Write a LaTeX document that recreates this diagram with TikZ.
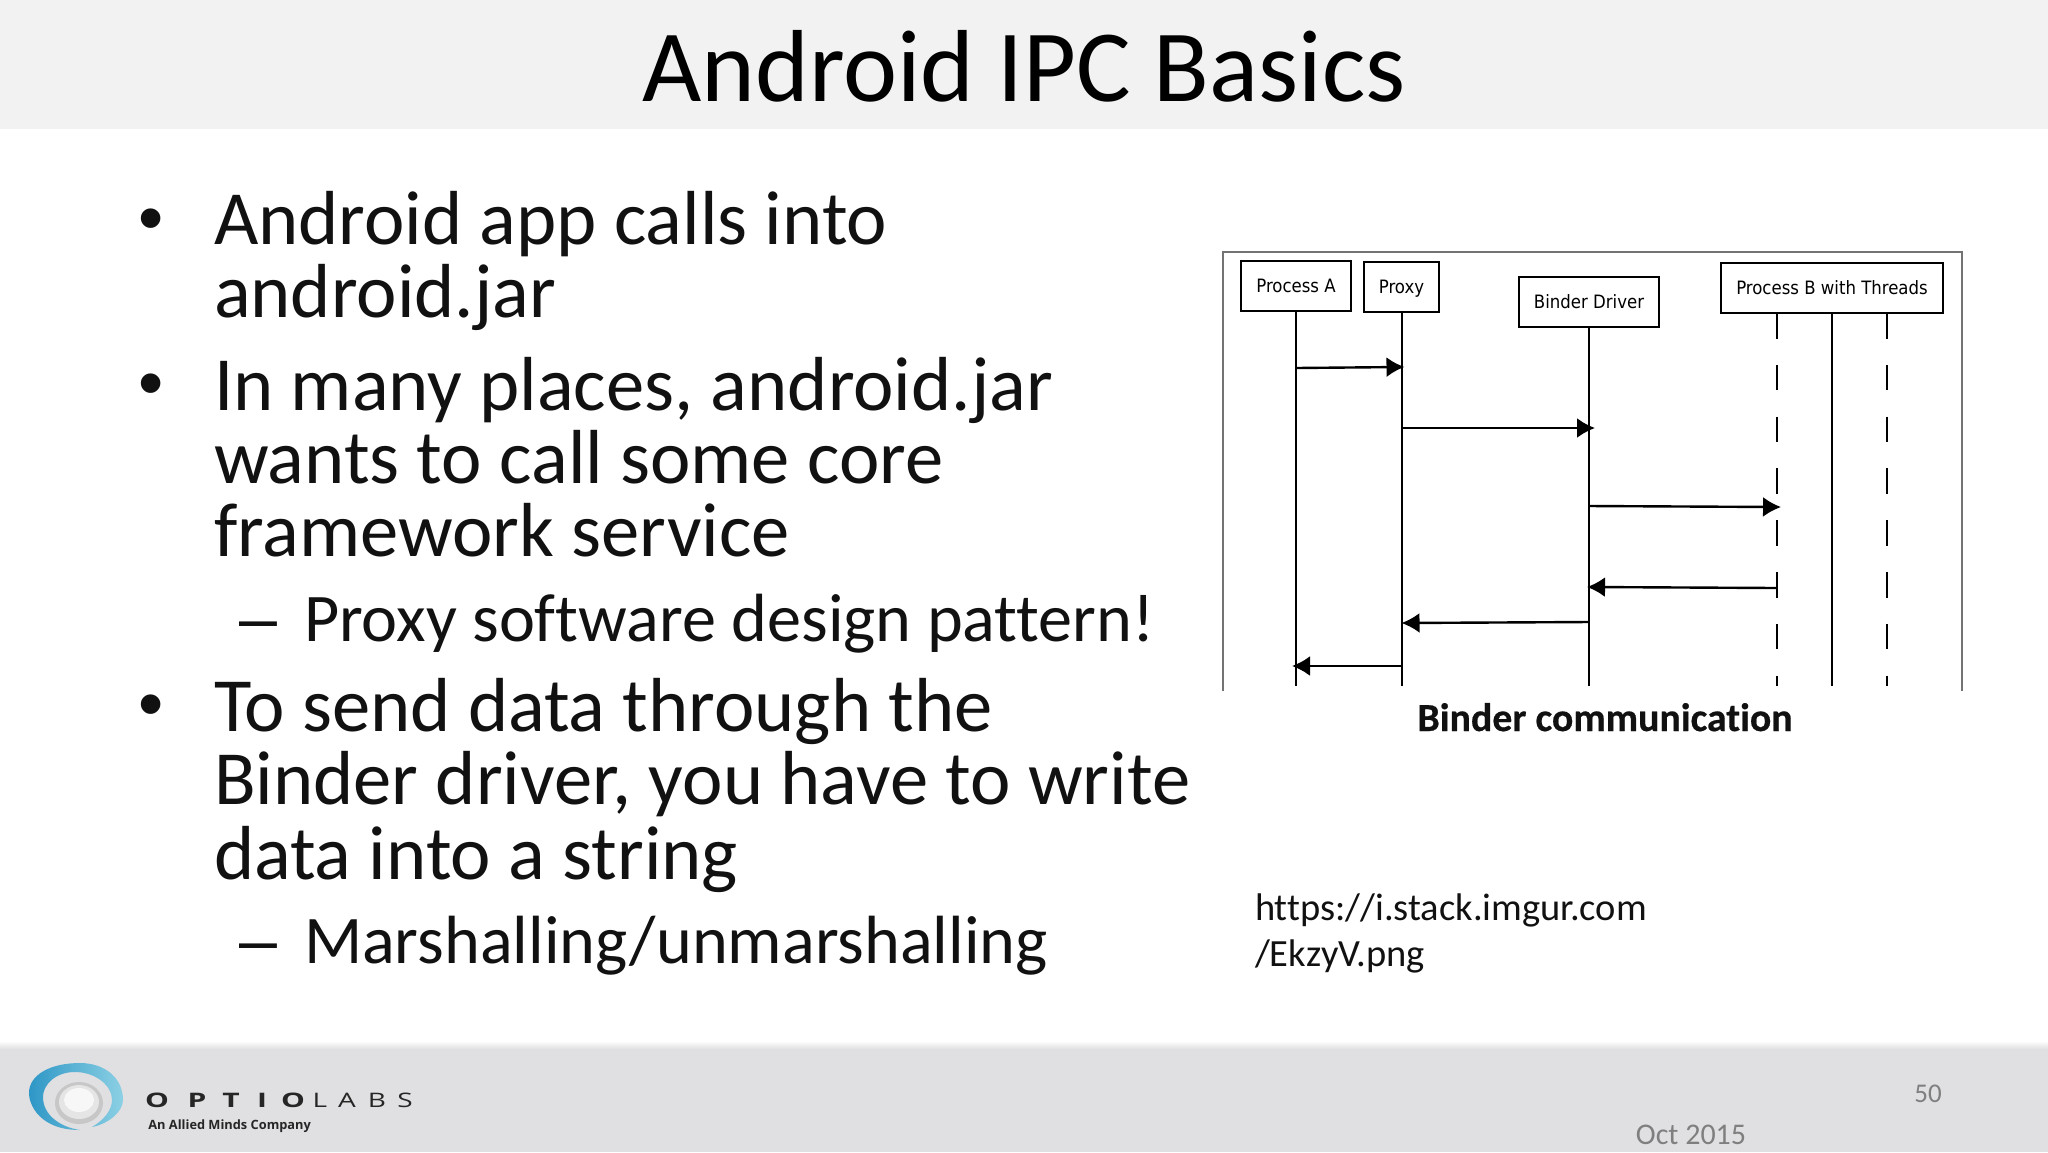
\documentclass[tikz,border=0pt]{standalone}
\usepackage{fontspec}
\usetikzlibrary{arrows.meta}
\setmainfont{Carlito}[Ligatures=NoCommon,BoldFeatures={FakeBold=0.5}]
\newfontfamily\diafont{DejaVu Sans Condensed}
\newfontfamily\logofont{Open Sans}
\newfontfamily\markfont{Liberation Sans}
\definecolor{headbar}{HTML}{F2F2F2}
\definecolor{footbar}{HTML}{E0DFE1}
\definecolor{foottext}{HTML}{7F7F7F}
\definecolor{logoblue}{HTML}{2E97C6}
\definecolor{logolight}{HTML}{8CD0E4}
\definecolor{ink}{HTML}{111111}
\tikzset{
  basetext/.style={anchor=base west,inner sep=0pt,outer sep=0pt,text=ink},
  bodytext/.style={basetext,font=\fontsize{38.3}{38.3}\selectfont},
  subtext/.style={basetext,font=\fontsize{34.1}{34.1}\selectfont},
  urltext/.style={basetext,font=\fontsize{19.25}{19.25}\selectfont},
  bulletmark/.style={anchor=base,inner sep=0pt,outer sep=0pt,text=ink,font=\markfont\fontsize{36}{36}\selectfont},
  dashmark/.style={anchor=base,inner sep=0pt,outer sep=0pt,text=ink,font=\markfont\fontsize{34.1}{34.1}\selectfont},
  lifebox/.style={draw=black,line width=1.35pt,fill=white,inner sep=0pt,outer sep=0pt,anchor=north west,text height=6pt,text depth=0pt,font=\diafont\fontsize{9.2}{9.2}\selectfont},
  life/.style={draw=black,line width=1pt},
  msg/.style={draw=black,line width=1.2pt,-{Latex[length=9pt,width=10pt]}},
  logotext/.style={anchor=base,inner sep=0pt,text=black!85}
}
\begin{document}
\begin{tikzpicture}[x=0.5pt,y=-0.5pt]
\useasboundingbox (0,0) rectangle (2048,1152);
\fill[white] (0,0) rectangle (2048,1152);
% header and footer bands
\fill[headbar] (0,0) rectangle (2048,129);
\fill[footbar] (0,1049) rectangle (2048,1152);
\shade[top color=white,bottom color=footbar,draw=none] (0,1041) rectangle (2048,1049);
\node[anchor=base,inner sep=0pt,text=black,font=\fontsize{51.2}{51.2}\selectfont] (title) at (1024,101) {Android IPC Basics};
% body text
\node[bulletmark] (b1) at (151,242) {•};
\node[bodytext] (l1) at (214,244) {Android app calls into};
\node[bodytext] (l2) at (214,317) {android.jar};
\node[bulletmark] (b2) at (151,407) {•};
\node[bodytext] (l3) at (214,410) {In many places, android.jar};
\node[bodytext] (l4) at (214,483) {wants to call some core};
\node[bodytext] (l5) at (214,556) {framework service};
\node[dashmark] (d1) at (258,641) {–};
\node[subtext] (l6) at (304,641) {Proxy software design pattern!};
\node[bulletmark] (b3) at (151,728) {•};
\node[bodytext] (l7) at (214,731) {To send data through the};
\node[bodytext] (l8) at (214,804) {Binder driver, you have to write};
\node[bodytext] (l9) at (214,879) {data into a string};
\node[dashmark] (d2) at (258,963) {–};
\node[subtext] (l10) at (304,963) {Marshalling/unmarshalling};
% figure frame
\draw[draw=black!55,line width=0.8pt] (1223,691) -- (1223,252) -- (1962,252) -- (1962,691);
% lifeline heads
\node[lifebox,minimum width=55pt,minimum height=25pt] (pa) at (1241,261) {Process A};
\node[lifebox,minimum width=37.5pt,minimum height=25pt] (px) at (1364,262) {Proxy};
\node[lifebox,minimum width=70pt,minimum height=25pt] (bd) at (1519,277) {Binder Driver};
\node[lifebox,minimum width=111pt,minimum height=25pt] (pb) at (1721,263) {Process B with Threads};
% lifeline ends
\coordinate (paend) at (pa.south |- 0,686);
\coordinate (pxend) at (px.south |- 0,686);
\coordinate (bdend) at (bd.south |- 0,686);
\coordinate (pbtop) at (1777,313);
\coordinate (pbend) at (1777,686);
\coordinate (pctop) at (1832,313);
\coordinate (pcend) at (1832,686);
\coordinate (pdtop) at (1887,313);
\coordinate (pdend) at (1887,686);
\draw[life] (pa.south) -- (paend);
\draw[life] (px.south) -- (pxend);
\draw[life] (bd.south) -- (bdend);
\draw[life,dash pattern=on 12.8pt off 13.1pt] (pbtop) -- (pbend);
\draw[life] (pctop) -- (pcend);
\draw[life,dash pattern=on 12.8pt off 13.1pt] (pdtop) -- (pdend);
% messages
\path (pa.south |- 0,368) coordinate (m1a);
\path (px.south |- 0,367) coordinate (m1b);
\path (px.south |- 0,428) coordinate (m2a);
\path (bd.south |- 0,428) coordinate (m2b);
\path (bd.south |- 0,506) coordinate (m3a);
\path (pbtop |- 0,507) coordinate (m3b);
\path (pbtop |- 0,588) coordinate (m4a);
\path (bd.south |- 0,587) coordinate (m4b);
\path (bd.south |- 0,622) coordinate (m5a);
\path (px.south |- 0,623) coordinate (m5b);
\path (px.south |- 0,666) coordinate (m6a);
\path (pa.south |- 0,666) coordinate (m6b);
\draw[msg,shorten >=-1.5pt] (m1a) -- (m1b);
\draw[msg,shorten >=-3pt] (m2a) -- (m2b);
\draw[msg,shorten >=-2pt] (m3a) -- (m3b);
\draw[msg,shorten >=-1pt] (m4a) -- (m4b);
\draw[msg] (m5a) -- (m5b);
\draw[msg,shorten >=-2pt] (m6a) -- (m6b);
% caption and URL
\node[anchor=base,inner sep=0pt,text=ink,font=\bfseries\fontsize{19.9}{19.9}\selectfont] (cap) at (1605,731) {Binder communication};
\node[urltext] (u1) at (1255,920) {https://i.stack.imgur.com};
\node[urltext] (u2) at (1255,966) {/EkzyV.png};
% footer text
\node[anchor=base,inner sep=0pt,text=foottext,font=\fontsize{13.5}{13.5}\selectfont] (pg) at (1928,1102) {50};
\node[anchor=base,inner sep=0pt,text=foottext,font=\fontsize{15}{15}\selectfont] (dt) at (1691,1144) {Oct 2015};
% logo
\shade[left color=logoblue,right color=logolight,draw=none]
  (80,1130) .. controls (40,1130) and (29,1105) .. (29,1093)
  .. controls (29,1075) and (50,1063) .. (80,1063)
  .. controls (105,1063) and (123,1078) .. (123,1100)
  .. controls (123,1112) and (108,1124) .. (92,1127)
  .. controls (104,1120) and (112,1110) .. (112,1100)
  .. controls (112,1085) and (95,1072) .. (75,1072)
  .. controls (55,1072) and (43,1085) .. (43,1097)
  .. controls (43,1115) and (60,1127) .. (80,1130) -- cycle;
\fill[black!22] (79,1103) ellipse [x radius=24,y radius=21];
\fill[white,opacity=0.55] (79,1102) ellipse [x radius=20,y radius=17];
\fill[white,opacity=0.7] (79,1100) ellipse [x radius=15,y radius=12];
\foreach \ch/\xx/\cc in {O/157/1,P/197/1,T/231/1,I/262/1,O/293/1,L/320/0,A/347/0,B/377/0,S/405/0}{
  \ifnum\cc=1
    \node[logotext,font=\logofont\bfseries\fontsize{10}{10}\selectfont,xscale=1.5] at (\xx,1107) {\ch};
  \else
    \node[logotext,font=\logofont\fontsize{10}{10}\selectfont,xscale=1.4] at (\xx,1107) {\ch};
  \fi
}
\node[anchor=base west,inner sep=0pt,text=black!85,font=\logofont\bfseries\fontsize{6.4}{6.4}\selectfont] (tag) at (148,1129) {An Allied Minds Company};
\end{tikzpicture}
\end{document}
